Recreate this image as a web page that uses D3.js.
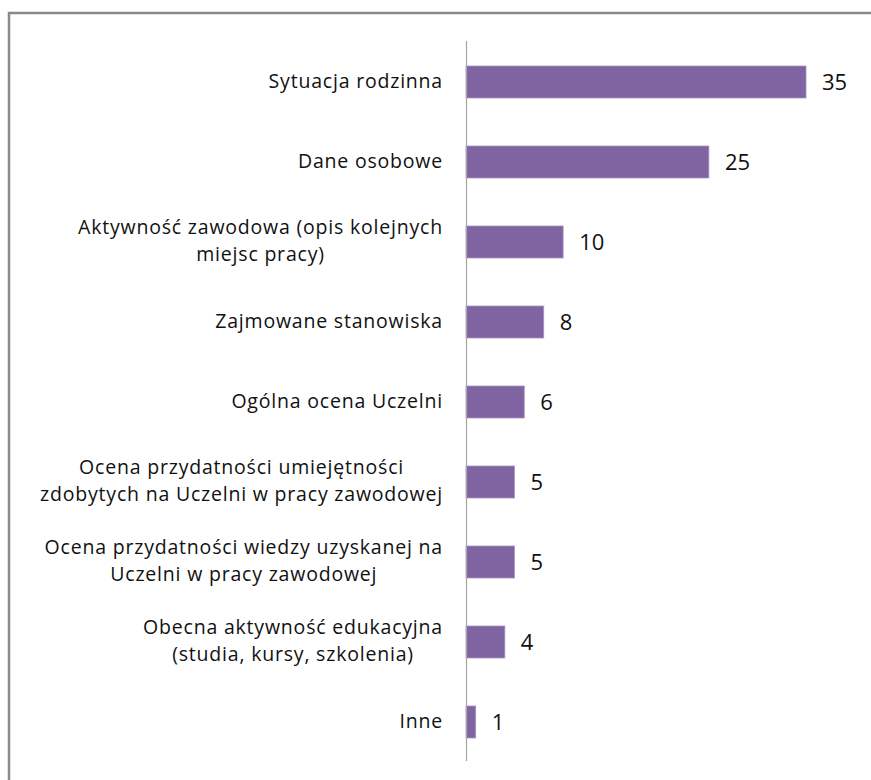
<!DOCTYPE html>
<html>
<head>
<meta charset="utf-8">
<script src="https://cdn.jsdelivr.net/npm/d3@7"></script>
<style>
  html, body { margin: 0; padding: 0; background: #fff; }
  svg { display: block; }
  text { font-family: "Open Sans", Lato, sans-serif; fill: #111; }
</style>
</head>
<body>
<svg id="chart" width="871" height="780"></svg>
<script>
// Categories (each entry holds the label lines as wrapped in the chart)
const categories = [
  ["Sytuacja rodzinna"],
  ["Dane osobowe"],
  ["Aktywność zawodowa (opis kolejnych", "miejsc pracy)"],
  ["Zajmowane stanowiska"],
  ["Ogólna ocena Uczelni"],
  ["Ocena przydatności umiejętności", "zdobytych na Uczelni w pracy zawodowej"],
  ["Ocena przydatności wiedzy uzyskanej na", "Uczelni w pracy zawodowej"],
  ["Obecna aktywność edukacyjna", "(studia, kursy, szkolenia)"],
  ["Inne"]
];
const values = [35, 25, 10, 8, 6, 5, 5, 4, 1];
const valueDomain = [0, 40];

const svg = d3.select("#chart");

// Outer chart frame (extends past the right/bottom edges of the view)
svg.append("rect")
  .attr("x", 9).attr("y", 13)
  .attr("width", 1000).attr("height", 1000)
  .attr("fill", "none")
  .attr("stroke", "#8a8a8a")
  .attr("stroke-width", 2.5);

const axisX = 466;
const x = d3.scaleLinear().domain(valueDomain).range([axisX, 854.6]);
const keys = categories.map((c, i) => i);
const y = d3.scaleBand().domain(keys).range([42, 762])
  .paddingInner(0.6).paddingOuter(0.3);

// Bars
svg.append("g").selectAll("rect")
  .data(values)
  .join("rect")
  .attr("x", x(0))
  .attr("y", (d, i) => y(i))
  .attr("width", d => x(d) - x(0))
  .attr("height", y.bandwidth())
  .attr("fill", "#8064a2")
  .attr("stroke", "#a897c2")
  .attr("stroke-width", 0.8);

// Category axis line
const yAxis = d3.axisLeft(y).tickSize(0).tickFormat("");
const gAxis = svg.append("g").attr("transform", `translate(${axisX},0)`).call(yAxis);
gAxis.select(".domain")
  .attr("d", "M0.5,41V761")
  .attr("stroke", "#a6a6a6")
  .attr("stroke-width", 1.2);

// Category labels: each block right-aligned to the axis, lines centred within it
const labelRight = 443;
const lg = svg.append("g").attr("font-size", 19.5).attr("letter-spacing", 0.8);
categories.forEach((lines, i) => {
  const cy = y(i) + y.bandwidth() / 2;
  const t = lg.append("text").attr("text-anchor", "middle");
  lines.forEach((ln, j) => {
    t.append("tspan").attr("x", 0)
      .attr("y", lines.length === 1 ? cy + 6 : cy - 8 + j * 27)
      .text(ln);
  });
  const w = t.node().getBBox().width;
  t.attr("transform", `translate(${labelRight - w / 2},0)`);
});

// Value labels
svg.append("g").attr("font-size", 22)
  .selectAll("text")
  .data(values)
  .join("text")
  .attr("x", d => x(d) + 16)
  .attr("y", (d, i) => y(i) + y.bandwidth() / 2 + 8)
  .text(d => d);
</script>
</body>
</html>
